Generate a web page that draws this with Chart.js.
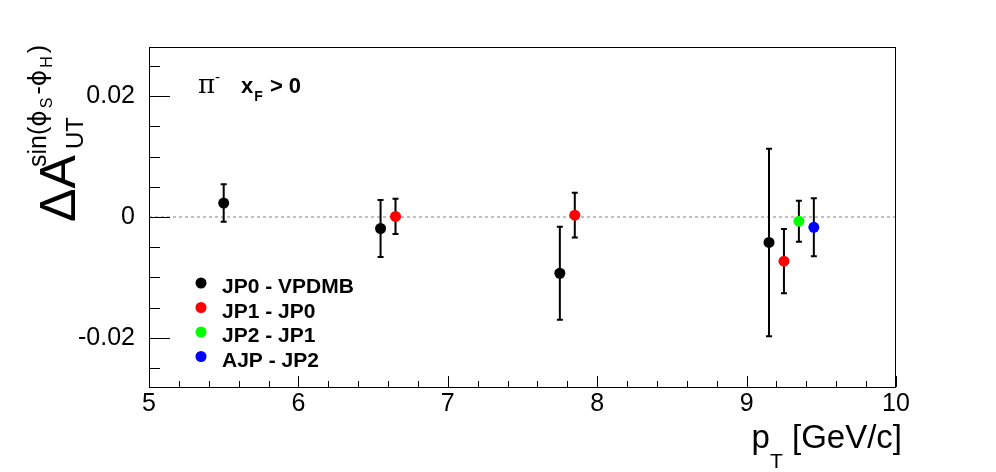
<!DOCTYPE html>
<html>
<head>
<meta charset="utf-8">
<script src="https://cdn.jsdelivr.net/npm/chart.js@4.4.1/dist/chart.umd.min.js"></script>
<style>
	html, body { margin: 0; padding: 0; background: #fff; }
	#wrap { width: 996px; height: 472px; position: relative; }
</style>
</head>
<body>
<div id="wrap"><canvas id="asymChart"></canvas></div>
<script>
// pT positions (GeV/c), asymmetry values and errors per trigger difference
const jp0X = [5.5, 6.55, 7.75, 9.15];
const jp0Y = [0.0023, -0.0019, -0.0093, -0.0042];
const jp0Err = [0.0031, 0.0047, 0.0077, 0.0155];

const jp1X = [6.65, 7.85, 9.25];
const jp1Y = [0.0001, 0.0003, -0.0073];
const jp1Err = [0.0029, 0.0037, 0.0053];

const jp2X = [9.35];
const jp2Y = [-0.0007];
const jp2Err = [0.0034];

const ajpX = [9.45];
const ajpY = [-0.0017];
const ajpErr = [0.0048];

const seriesLabels = ['JP0 - VPDMB', 'JP1 - JP0', 'JP2 - JP1', 'AJP - JP2'];
const seriesColors = ['#000000', '#ff0000', '#00ff00', '#0000ff'];

const xTickValues = [5, 6, 7, 8, 9, 10];
const yTickValues = [-0.02, 0, 0.02];
const yTickLabels = ['-0.02', '0', '0.02'];

function toPoints(xs, ys, errs) {
	return xs.map((x, i) => ({ x: x, y: ys[i], err: errs[i] }));
}

document.addEventListener("DOMContentLoaded", function() {
	const ctx = document.getElementById('asymChart').getContext('2d');
	const FONT = '"Liberation Sans", Arial, Helvetica, sans-serif';
	const SYM = '"DejaVu Sans", sans-serif';

	// draws a row of text pieces: [text, size, bold, dx, dy, family]
	function drawPieces(c, x, y, pieces) {
		let cx = x;
		pieces.forEach(p => {
			c.font = (p[2] ? 'bold ' : '') + p[1] + 'px ' + (p[5] || FONT);
			cx += p[3] || 0;
			c.fillText(p[0], cx, y + (p[4] || 0));
			cx += c.measureText(p[0]).width;
		});
	}

	const rootPlugin = {
		id: 'rootStyle',
		beforeDatasetsDraw(chart) {
			const c = chart.ctx;
			const xs = chart.scales.x, ys = chart.scales.y;
			const a = chart.chartArea;
			c.save();
			// zero line
			c.strokeStyle = '#c0c0c0';
			c.lineWidth = 2;
			c.setLineDash([3, 3]);
			c.beginPath();
			c.moveTo(a.left, ys.getPixelForValue(0));
			c.lineTo(a.right, ys.getPixelForValue(0));
			c.stroke();
			c.setLineDash([]);
			// error bars
			c.strokeStyle = '#000';
			c.lineWidth = 2;
			chart.data.datasets.forEach(ds => {
				ds.data.forEach(p => {
					const px = xs.getPixelForValue(p.x);
					const top = ys.getPixelForValue(p.y + p.err);
					const bot = ys.getPixelForValue(p.y - p.err);
					c.beginPath();
					c.moveTo(px, top);
					c.lineTo(px, bot);
					c.moveTo(px - 3, top);
					c.lineTo(px + 3, top);
					c.moveTo(px - 3, bot);
					c.lineTo(px + 3, bot);
					c.stroke();
				});
			});
			c.restore();
		},
		afterDraw(chart) {
			const c = chart.ctx;
			const xs = chart.scales.x, ys = chart.scales.y;
			const a = chart.chartArea;
			c.save();
			// frame
			c.strokeStyle = '#000';
			c.lineWidth = 1;
			c.strokeRect(Math.round(a.left) + 0.5, Math.round(a.top) + 0.5,
				Math.round(a.right - a.left) - 1, Math.round(a.bottom - a.top));
			// inner ticks
			c.beginPath();
			for (let v = 5; v <= 10.0001; v += 0.2) {
				const px = Math.round(xs.getPixelForValue(v)) + 0.5;
				const major = Math.abs(v - Math.round(v)) < 1e-6;
				c.moveTo(px, a.bottom);
				c.lineTo(px, a.bottom - (major ? 11 : 6));
			}
			for (let k = -5; k <= 5; k++) {
				const v = k * 0.005;
				const py = Math.round(ys.getPixelForValue(v)) + 0.5;
				const major = k % 4 === 0;
				c.moveTo(a.left, py);
				c.lineTo(a.left + (major ? 21 : 11), py);
			}
			c.stroke();

			// legend
			chart.data.datasets.forEach((ds, i) => {
				const ly = 283 + 24.5 * i;
				c.fillStyle = ds.backgroundColor;
				c.beginPath();
				c.arc(201, ly, 5.5, 0, Math.PI * 2);
				c.fill();
				c.fillStyle = '#000';
				c.font = 'bold 21px ' + FONT;
				c.textBaseline = 'alphabetic';
				c.textAlign = 'left';
				c.fillText(ds.label, 222, ly + 10);
			});

			// annotation
			c.fillStyle = '#000';
			c.textAlign = 'left';
			c.textBaseline = 'alphabetic';
			drawPieces(c, 198, 93, [['\u03c0', 26, false, 0, 0, '"DejaVu Serif", serif']]);
			drawPieces(c, 215, 82, [['-', 15, false]]);
			drawPieces(c, 241, 93, [['x', 22, true], ['F', 14, true, 1, 8], [' > 0', 22, true, 1]]);

			// x axis title
			c.font = '33px ' + FONT;
			const tail = ' [GeV/c]';
			const wTail = c.measureText(tail).width;
			c.font = '21px ' + FONT;
			const wT = c.measureText('T').width;
			c.font = '33px ' + FONT;
			const wP = c.measureText('p').width;
			const startX = a.right + 6 - wTail - wT - wP;
			drawPieces(c, startX, 448, [['p', 33, false], ['T', 21, false, 0, 20 - 0], [tail, 33, false]]);

			// y axis title (rotated)
			c.translate(75, 222);
			c.rotate(-Math.PI / 2);
			drawPieces(c, 0, 0, [['\u0394A', 50, false]]);
			drawPieces(c, 73, 8, [['UT', 24, false]]);
			drawPieces(c, 55, -29, [['sin(', 25, false], ['\u03d5', 25, false, 0, 0, SYM],
				['S', 16, false, 2, 6], ['-', 25, false, 3], ['\u03d5', 25, false, 0, 0, SYM],
				['H', 16, false, 2, 6], [')', 25, false, 3]]);
			c.restore();
		}
	};

	const datasets = [
		toPoints(jp0X, jp0Y, jp0Err),
		toPoints(jp1X, jp1Y, jp1Err),
		toPoints(jp2X, jp2Y, jp2Err),
		toPoints(ajpX, ajpY, ajpErr)
	].map((pts, i) => ({
		label: seriesLabels[i],
		data: pts,
		backgroundColor: seriesColors[i],
		borderColor: seriesColors[i],
		borderWidth: 0,
		pointRadius: 5.5,
		pointHoverRadius: 5.5
	}));

	new Chart(ctx, {
		type: 'scatter',
		data: { datasets: datasets },
		options: {
			responsive: true,
			maintainAspectRatio: false,
			animation: false,
			layout: { padding: { left: 0, top: 47, right: 100, bottom: 0 } },
			plugins: {
				legend: { display: false },
				tooltip: { enabled: false }
			},
			scales: {
				x: {
					type: 'linear',
					min: 5,
					max: 10,
					afterBuildTicks: s => { s.ticks = xTickValues.map(v => ({ value: v })); },
					afterFit: s => { s.height = 85; },
					grid: { display: false },
					border: { display: false },
					ticks: {
						color: '#000',
						font: { family: FONT, size: 25 },
						padding: -6,
						maxRotation: 0,
						callback: v => String(v)
					}
				},
				y: {
					type: 'linear',
					min: -0.0281,
					max: 0.0281,
					afterBuildTicks: s => { s.ticks = yTickValues.map(v => ({ value: v })); },
					afterFit: s => { s.width = 149; },
					grid: { display: false },
					border: { display: false },
					ticks: {
						color: '#000',
						font: { family: FONT, size: 25 },
						padding: 6,
						callback: v => yTickLabels[yTickValues.indexOf(v)]
					}
				}
			}
		},
		plugins: [rootPlugin]
	});
});
</script>
</body>
</html>
